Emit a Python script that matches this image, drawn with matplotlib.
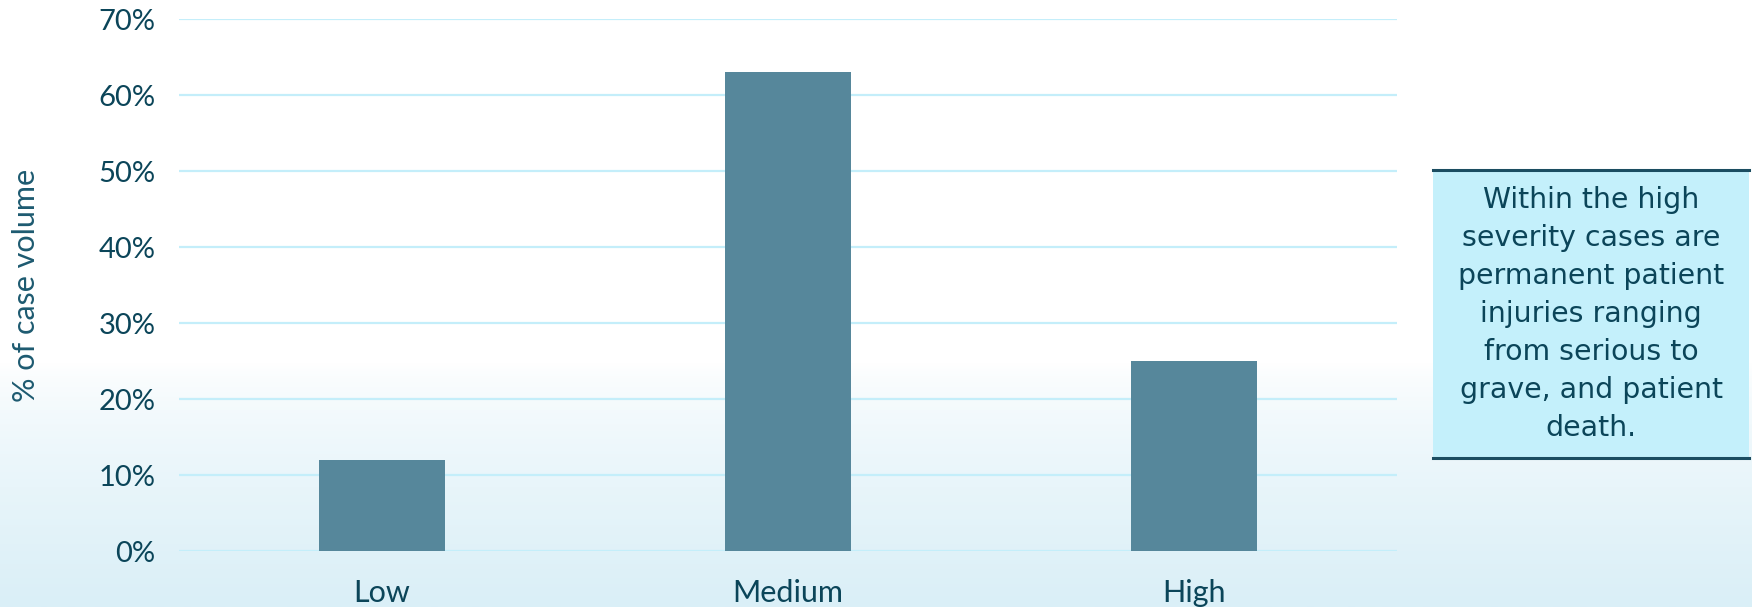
import numpy as np
import matplotlib
matplotlib.use('Agg')
from matplotlib import pyplot as plt
from matplotlib.colors import LinearSegmentedColormap
from matplotlib.ticker import PercentFormatter

severity = ['Low', 'Medium', 'High']
share = [12, 63, 25]  # % of case volume
y_ticks = [0, 10, 20, 30, 40, 50, 60, 70]
note = ('Within the high\nseverity cases are\npermanent patient\ninjuries ranging\n'
        'from serious to\ngrave, and patient\ndeath.')

text_dark = '#0b4559'
bar_color = '#56879b'
grid_color = '#c4eefa'

plt.rcParams['font.family'] = ['Lato', 'DejaVu Sans']

fig = plt.figure(figsize=(17.52, 6.07), dpi=100)

# Soft white-to-blue background fading in towards the bottom.
bg = fig.add_axes([0, 0, 1, 1], zorder=-10)
bg.axis('off')
ramp = np.clip((np.linspace(0, 1, 400) - 0.6) / 0.4, 0, 1) ** 0.7
cmap = LinearSegmentedColormap.from_list('bg', ['#ffffff', '#daeff7'])
bg.imshow(ramp[:, None], aspect='auto', cmap=cmap, extent=[0, 1, 0, 1],
          origin='upper', vmin=0, vmax=1)

ax = fig.add_axes([179 / 1752, 1 - 551 / 607, 1218 / 1752, (551 - 19) / 607])
ax.set_facecolor('none')
ax.bar(range(len(severity)), share, width=0.31, color=bar_color, zorder=3)
ax.set_xlim(-0.5, 2.5)
ax.set_ylim(0, 70)
ax.set_yticks(y_ticks)
ax.yaxis.set_major_formatter(PercentFormatter(decimals=0))
ax.set_xticks(range(len(severity)))
ax.set_xticklabels(severity)
ax.grid(axis='y', color=grid_color, linewidth=1.6, zorder=0)
ax.tick_params(length=0, labelsize=21, labelcolor=text_dark)
ax.tick_params(axis='y', pad=17)
ax.tick_params(axis='x', labelsize=22, pad=20)
for s in ax.spines.values():
    s.set_visible(False)
ax.set_ylabel('% of case volume', fontsize=22, color='#1d5a70', labelpad=42)

# Side note with rules above and below.
box = fig.add_axes([1433 / 1752, 1 - 458 / 607, (1749 - 1433) / 1752, (458 - 170) / 607])
box.set_facecolor('#c4f0fb')
box.set_xticks([])
box.set_yticks([])
box.spines['left'].set_visible(False)
box.spines['right'].set_visible(False)
for side in ('top', 'bottom'):
    box.spines[side].set_color('#1b4d61')
    box.spines[side].set_linewidth(2.2)
box.text(0.5, 0.5, note, ha='center', va='center', fontsize=20.4,
         color=text_dark, linespacing=1.45, family=['DejaVu Sans'],
         transform=box.transAxes)

fig.savefig('out.png', dpi=100)
